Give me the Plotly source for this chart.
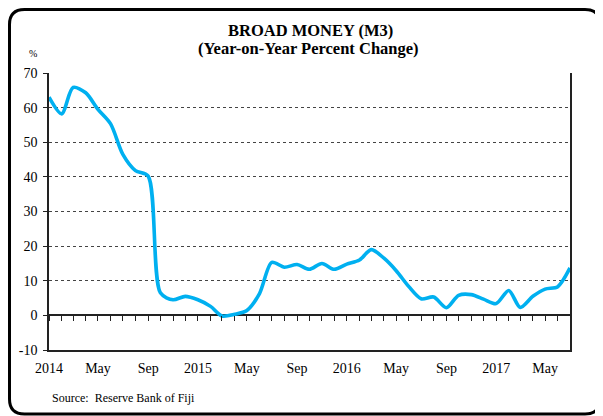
import plotly.graph_objects as go

# ---- data ----
months = [
    "2014-01-01", "2014-02-01", "2014-03-01", "2014-04-01", "2014-05-01", "2014-06-01",
    "2014-07-01", "2014-08-01", "2014-09-01", "2014-10-01", "2014-11-01", "2014-12-01",
    "2015-01-01", "2015-02-01", "2015-03-01", "2015-04-01", "2015-05-01", "2015-06-01",
    "2015-07-01", "2015-08-01", "2015-09-01", "2015-10-01", "2015-11-01", "2015-12-01",
    "2016-01-01", "2016-02-01", "2016-03-01", "2016-04-01", "2016-05-01", "2016-06-01",
    "2016-07-01", "2016-08-01", "2016-09-01", "2016-10-01", "2016-11-01", "2016-12-01",
    "2017-01-01", "2017-02-01", "2017-03-01", "2017-04-01", "2017-05-01", "2017-06-01",
    "2017-07-01",
]
m3_growth = [
    63.0, 58.2, 65.8, 64.3, 59.5, 55.3,
    46.5, 41.8, 40.2, 6.5, 4.5, 5.5,
    4.5, 2.6, -0.2, 0.3, 1.4, 6.3,
    15.3, 13.9, 14.7, 13.3, 15.0, 13.3,
    14.8, 16.0, 19.0, 16.5, 12.9, 8.3,
    4.8, 5.3, 2.2, 5.8, 6.0, 4.7,
    3.4, 7.2, 2.3, 5.5, 7.6, 8.3,
    13.7,
]
label_months = ["2014-01-01", "2014-05-01", "2014-09-01", "2015-01-01", "2015-05-01",
                "2015-09-01", "2016-01-01", "2016-05-01", "2016-09-01", "2017-01-01",
                "2017-05-01"]
label_text = ["2014", "May", "Sep", "2015", "May", "Sep", "2016", "May", "Sep", "2017", "May"]
y_ticks = [-10, 0, 10, 20, 30, 40, 50, 60, 70]
y_text = ["-10", "0", "10", "20", "30", "40", "50", "60", "70"]

# ---- layout geometry (figure pixels; page adds an 8px body margin) ----
W, H = 595, 408
L, R, T, B = 41, 562, 65, 342
SERIF = "Liberation Serif, Times New Roman, serif"
LINE = "#222222"


def px(x):
    return (x - L) / (R - L)


def py(y):
    return (B - y) / (B - T)


fig = go.Figure()
fig.add_trace(go.Scatter(
    x=months, y=m3_growth, mode="lines",
    line=dict(color="#00B0F0", width=3.6, shape="spline", smoothing=0.8),
    showlegend=False, hoverinfo="x+y",
))
# invisible helper trace so the monthly tick axis on the zero line is drawn
fig.add_trace(go.Scatter(
    x=months, y=m3_growth, xaxis="x2", mode="lines",
    line=dict(color="rgba(0,0,0,0)", width=0), showlegend=False, hoverinfo="skip",
))

zero_pos = (0 - y_ticks[0]) / (y_ticks[-1] - y_ticks[0])

bx0, bx1, by0, by1, rad = 1.5, 592, 1.5, 406, 15
border_path = (
    f"M {px(bx0 + rad)} {py(by0)} L {px(bx1 - rad)} {py(by0)} "
    f"Q {px(bx1)} {py(by0)} {px(bx1)} {py(by0 + rad)} "
    f"L {px(bx1)} {py(by1 - rad)} Q {px(bx1)} {py(by1)} {px(bx1 - rad)} {py(by1)} "
    f"L {px(bx0 + rad)} {py(by1)} Q {px(bx0)} {py(by1)} {px(bx0)} {py(by1 - rad)} "
    f"L {px(bx0)} {py(by0 + rad)} Q {px(bx0)} {py(by0)} {px(bx0 + rad)} {py(by0)} Z"
)

fig.update_layout(
    width=W, height=H,
    margin=dict(l=L, r=W - R, t=T, b=H - B),
    paper_bgcolor="white", plot_bgcolor="white",
    font=dict(family=SERIF, size=14, color="black"),
    xaxis=dict(
        type="date", range=[months[0], months[-1]],
        tickvals=label_months, ticktext=label_text,
        ticks="", ticklabelstandoff=4,
        showline=True, linecolor=LINE, linewidth=1.5,
        showgrid=False, zeroline=False,
        tickfont=dict(family=SERIF, size=14),
    ),
    xaxis2=dict(
        type="date", range=[months[0], months[-1]],
        overlaying="x", anchor="free", position=zero_pos, side="bottom",
        tick0=months[0], dtick="M1", ticks="outside", ticklen=5,
        tickwidth=1, tickcolor=LINE,
        showticklabels=False, showline=False, showgrid=False, zeroline=False,
    ),
    yaxis=dict(
        range=[y_ticks[0], y_ticks[-1]], tickvals=y_ticks, ticktext=y_text,
        ticks="outside", ticklen=4, tickcolor=LINE, ticklabelstandoff=3,
        showgrid=True, griddash="dot", gridcolor="#444444", gridwidth=1,
        zeroline=True, zerolinecolor=LINE, zerolinewidth=1.5,
        showline=True, mirror=True, linecolor=LINE, linewidth=1.5,
        tickfont=dict(family=SERIF, size=14),
    ),
    shapes=[
        dict(type="path", xref="paper", yref="paper", path=border_path,
             line=dict(color="black", width=3), fillcolor="rgba(0,0,0,0)",
             layer="above"),
    ],
    annotations=[
        dict(text="<b>BROAD MONEY (M3)</b>",
             xref="paper", yref="paper", x=px(302), y=py(22), xanchor="center",
             yanchor="middle", showarrow=False,
             font=dict(family=SERIF, size=16.5, color="black")),
        dict(text="<b>(Year-on-Year Percent Change)</b>",
             xref="paper", yref="paper", x=px(300), y=py(40), xanchor="center",
             yanchor="middle", showarrow=False,
             font=dict(family=SERIF, size=16.5, color="black")),
        dict(text="%", xref="paper", yref="paper", x=px(25), y=py(46),
             xanchor="center", yanchor="middle", showarrow=False,
             font=dict(family=SERIF, size=10, color="black")),
        dict(text="Source:  Reserve Bank of Fiji", xref="paper", yref="paper",
             x=px(42), y=py(390), xanchor="left", yanchor="middle", showarrow=False,
             font=dict(family=SERIF, size=12, color="black")),
    ],
)

fig.write_html("out.html")
